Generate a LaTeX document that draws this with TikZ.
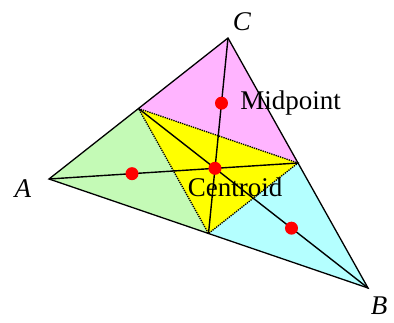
\documentclass[tikz,border=0pt]{standalone}
\usepackage{fontspec}
\setmainfont{Liberation Serif}
\usepackage{xcolor}
\usetikzlibrary{calc,positioning}
\definecolor{CornerGreen}{HTML}{C4FAB6}
\definecolor{CornerPink}{HTML}{FFB4FF}
\definecolor{CornerCyan}{HTML}{B4FFFF}
\definecolor{MidYellow}{HTML}{FFFF00}

\begin{document}
\begin{tikzpicture}[
  x=1pt, y=-1pt,
  edge/.style={draw=black, line width=1.3pt},
  medial/.style={draw=black, line width=1.3pt, densely dotted},
  median/.style={draw=black, line width=1.4pt},
  dot/.style={circle, fill=red, inner sep=0pt, minimum size=13pt},
  lbl/.style={font=\fontsize{27}{30}\selectfont, inner sep=0pt}
]
\useasboundingbox (0,0) rectangle (394,323);
% vertices and midpoints
\coordinate (A) at (49,179);
\coordinate (B) at (368,288);
\coordinate (C) at (228,38);
\coordinate (mAC) at ($(A)!0.5!(C)$);
\coordinate (mBC) at ($(B)!0.5!(C)$);
\coordinate (mAB) at ($(A)!0.5!(B)$);

% the four small triangles
\fill[CornerGreen] (A) -- (mAB) -- (mAC) -- cycle;
\fill[CornerPink] (C) -- (mAC) -- (mBC) -- cycle;
\fill[CornerCyan] (B) -- (mBC) -- (mAB) -- cycle;
\fill[MidYellow] (mAC) -- (mBC) -- (mAB) -- cycle;

\draw[edge] (A) -- (B) -- (C) -- cycle;
\draw[medial] (mAC) -- (mBC) -- (mAB) -- cycle;
\draw[median] (A) -- (mBC);
\draw[median] (B) -- (mAC);
\draw[median] (C) -- (mAB);

% centroids
\node[dot] (g) at ($1/3*(A)+1/3*(B)+1/3*(C)$) {};
\node[dot] (gA) at ($1/3*(A)+1/3*(mAB)+1/3*(mAC)$) {};
\node[dot] (gC) at ($1/3*(C)+1/3*(mAC)+1/3*(mBC)$) {};
\node[dot] (gB) at ($1/3*(B)+1/3*(mBC)+1/3*(mAB)$) {};

\node[lbl] (labA) at (23,189) {\textit{A}};
\node[lbl] (labB) at (379,306) {\textit{B}};
\node[lbl] (labC) at (242,22) {\textit{C}};
\node[lbl, right=12pt of gC] (labMid) {Midpoint};
\node[lbl] (labCen) at (235,187) {Centroid};
\end{tikzpicture}
\end{document}
